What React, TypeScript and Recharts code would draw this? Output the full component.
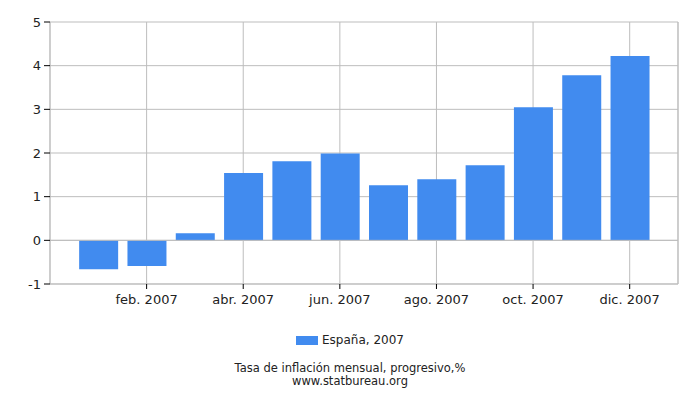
import React from 'react';
import { Bar, BarChart, CartesianGrid, ReferenceLine, XAxis, YAxis } from 'recharts';

// Monthly values (Spain, 2007)
const months = ['ene.', 'feb.', 'mar.', 'abr.', 'may.', 'jun.', 'jul.', 'ago.', 'sep.', 'oct.', 'nov.', 'dic.'];
const values = [-0.66, -0.59, 0.16, 1.54, 1.81, 1.99, 1.26, 1.4, 1.72, 3.05, 3.78, 4.22];
const xTicks = [2, 4, 6, 8, 10, 12];
const yTicks = [-1, 0, 1, 2, 3, 4, 5];
const seriesName = 'España, 2007';

const data = months.map((m, i) => ({ month: i + 1, label: `${m} 2007`, value: values[i] }));

const BLUE = '#418bef';
const GRID = '#bdbdbd';
const FONT = '"DejaVu Sans", Verdana, sans-serif';

export default function App() {
  return (
    <div style={{ position: 'absolute', left: 0, top: 0, width: 700, height: 400, background: '#fff' }}>
      <BarChart width={700} height={400} data={data} margin={{ top: 22, right: 22, left: 0, bottom: 86 }}>
        <CartesianGrid stroke={GRID} />
        <XAxis
          dataKey="month"
          type="number"
          domain={[0, 13]}
          ticks={xTicks}
          tickFormatter={(v) => data[v - 1]?.label ?? ''}
          height={30}
          axisLine={{ stroke: GRID }}
          tickLine={{ stroke: '#000' }}
          tickSize={5}
          tickMargin={6}
          tick={{ fill: '#222', fontSize: 13, fontFamily: FONT }}
        />
        <YAxis
          domain={[-1, 5]}
          ticks={yTicks}
          width={50}
          axisLine={{ stroke: GRID }}
          tickLine={{ stroke: '#000' }}
          tickSize={6}
          tickMargin={3}
          tick={{ fill: '#222', fontSize: 13, fontFamily: FONT }}
        />
        <ReferenceLine x={13} stroke={GRID} />
        <ReferenceLine y={0} stroke={GRID} />
        <Bar dataKey="value" name={seriesName} fill={BLUE} barSize={39} isAnimationActive={false} />
      </BarChart>
      {/* legend */}
      <div style={{ position: 'absolute', top: 333, left: 0, width: 700, display: 'flex', justifyContent: 'center', alignItems: 'center', fontFamily: FONT, fontSize: 12, color: '#222' }}>
        <span style={{ display: 'inline-block', width: 22, height: 9, background: BLUE, marginRight: 4 }} />
        <span style={{ lineHeight: '15px' }}>{seriesName}</span>
      </div>
      <div style={{ position: 'absolute', top: 362, left: 0, width: 700, textAlign: 'center', fontFamily: FONT, fontSize: 11.5, lineHeight: '13px', color: '#222' }}>
        <div>Tasa de inflación mensual, progresivo,%</div>
        <div>www.statbureau.org</div>
      </div>
    </div>
  );
}
